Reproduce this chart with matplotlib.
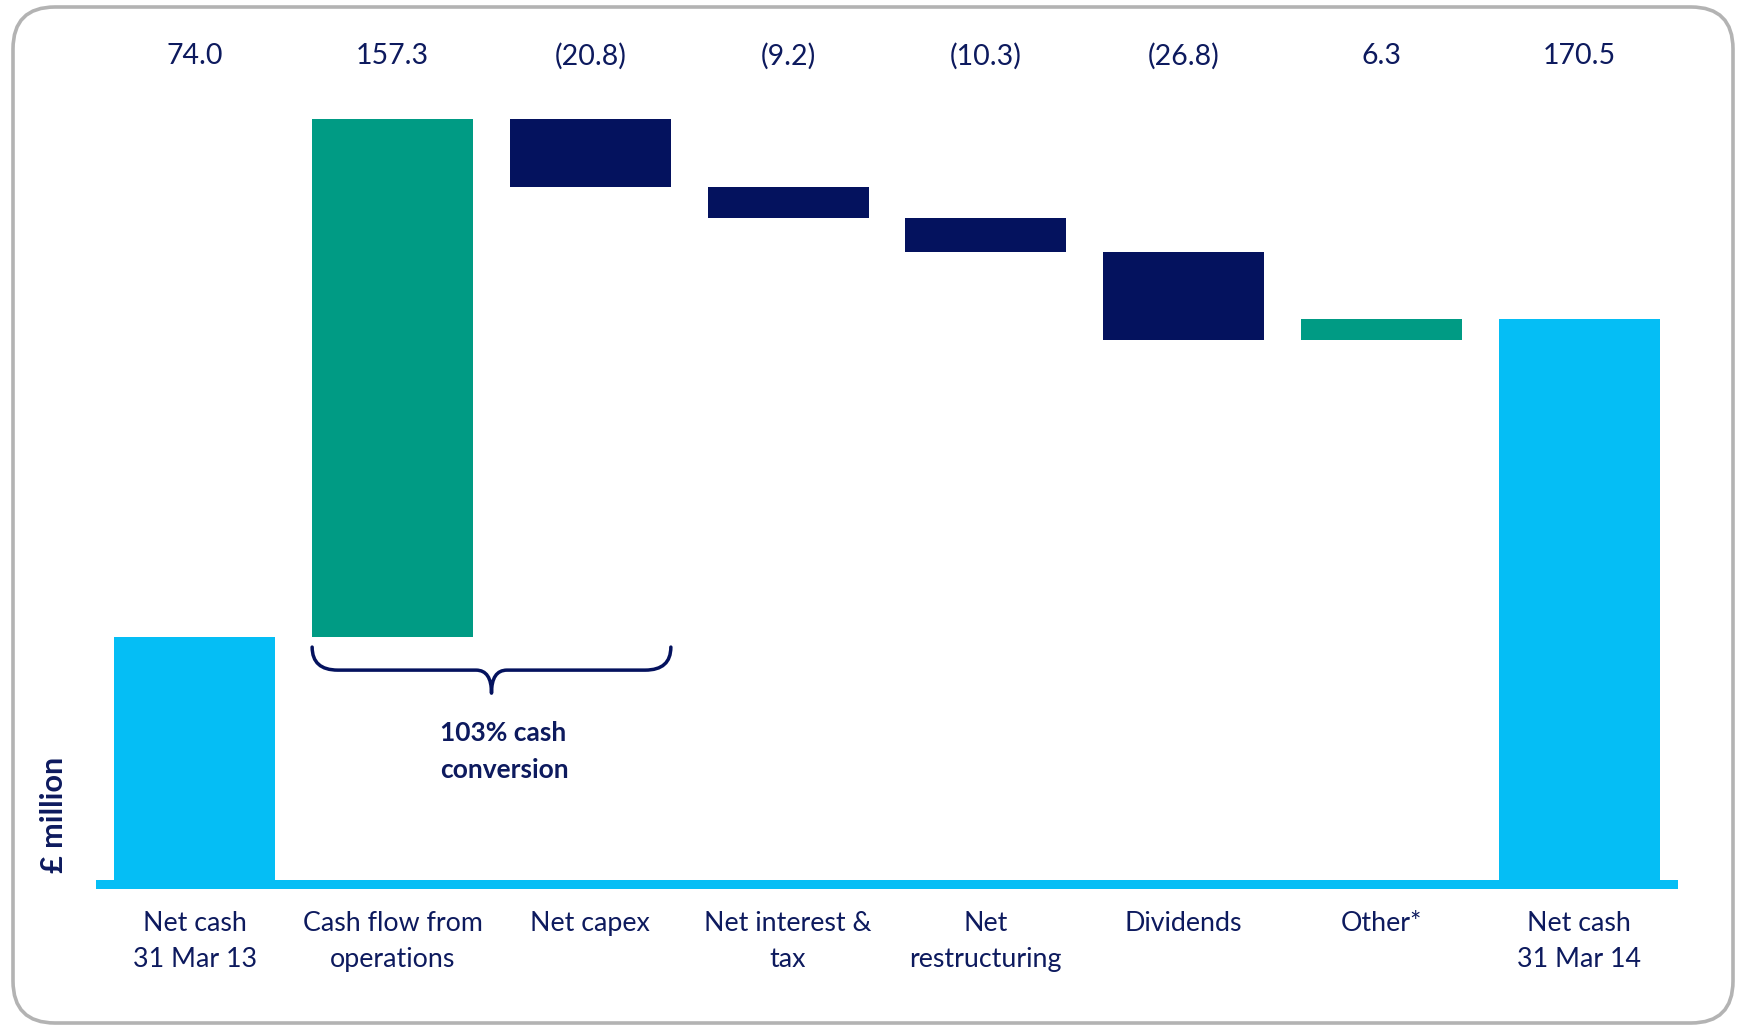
import numpy as np
import matplotlib
matplotlib.use("Agg")
import matplotlib.pyplot as plt
from matplotlib.patches import FancyBboxPatch, PathPatch
from matplotlib.path import Path
from matplotlib.transforms import IdentityTransform

plt.rcParams['font.family'] = ['Lato', 'DejaVu Sans']

# Net cash bridge, £ million
categories = ['Net cash\n31 Mar 13', 'Cash flow from\noperations', 'Net capex',
              'Net interest &\ntax', 'Net\nrestructuring', 'Dividends', 'Other*',
              'Net cash\n31 Mar 14']
values = [74.0, 157.3, -20.8, -9.2, -10.3, -26.8, 6.3, 170.5]
kinds = ['total', 'step', 'step', 'step', 'step', 'step', 'step', 'total']

CYAN = '#05BEF5'
TEAL = '#009B84'
NAVY = '#04125E'
TEXT = '#0D1A5E'

W, H, DPI = 1739, 1026, 100
fig = plt.figure(figsize=(W / DPI, H / DPI), dpi=DPI)

# rounded frame around everything
frame = FancyBboxPatch((13, 3), 1720, 1016, boxstyle='round,pad=0,rounding_size=42',
                       transform=IdentityTransform(), fill=False,
                       edgecolor='#B3B3B3', linewidth=2.6)
fig.patches.append(frame)

ax = fig.add_axes([96 / W, 0.1333, 1582 / W, 0.7946])
ax.set_xlim(-0.5, 7.5)
ax.set_ylim(-2.8, 245)
ax.axis('off')

# waterfall bars
running = 0.0
for i, (v, k) in enumerate(zip(values, kinds)):
    if k == 'total':
        bottom, height, color = 0, v, CYAN
        running = v
    else:
        bottom = running if v >= 0 else running + v
        height = abs(v)
        color = TEAL if v >= 0 else NAVY
        running += v
    ax.bar(i, height, bottom=bottom, width=0.814, color=color, linewidth=0)

# baseline strip
ax.axhspan(-2.8, 0, color=CYAN, linewidth=0)

# value labels across the top
for i, v in enumerate(values):
    txt = f'{v:.1f}' if v >= 0 else f'({abs(v):.1f})'
    ax.annotate(txt, xy=(i, 1 - 56 / H), xycoords=('data', 'figure fraction'),
                ha='center', va='center', fontsize=20.5, color=TEXT)

# category labels
for i, c in enumerate(categories):
    ax.annotate(c, xy=(i, 1 - 911 / H), xycoords=('data', 'figure fraction'),
                ha='center', va='top', fontsize=19.3, color=TEXT, linespacing=1.57)

# brace under operating cash flow and capex
L, R = 1 - 0.407, 2 + 0.407
M = (L + R) / 2
y_top, y_mid, y_bot = 70.8, 63.8, 56.8
rx = 0.13
verts = [(L, y_top), (L, y_mid), (L + rx, y_mid),
         (M - rx * 0.6, y_mid), (M, y_mid), (M, y_bot),
         (M, y_mid), (M + rx * 0.6, y_mid),
         (R - rx, y_mid), (R, y_mid), (R, y_top)]
codes = [Path.MOVETO, Path.CURVE3, Path.CURVE3,
         Path.LINETO, Path.CURVE3, Path.CURVE3,
         Path.CURVE3, Path.CURVE3,
         Path.LINETO, Path.CURVE3, Path.CURVE3]
ax.add_patch(PathPatch(Path(verts, codes), fill=False, edgecolor=NAVY,
                       linewidth=2.5, capstyle='round', joinstyle='round'))

ax.annotate('103% cash\nconversion', xy=(440 / W, 1 - 721 / H), xycoords='figure fraction',
            ha='left', va='top', fontsize=19, fontweight='bold', color=TEXT,
            linespacing=1.65)

fig.text(54 / W, 1 - 815 / H, '£ million', rotation=90, ha='center', va='center',
         fontsize=22, fontweight='bold', color=TEXT)

fig.savefig('out.png', dpi=DPI)
